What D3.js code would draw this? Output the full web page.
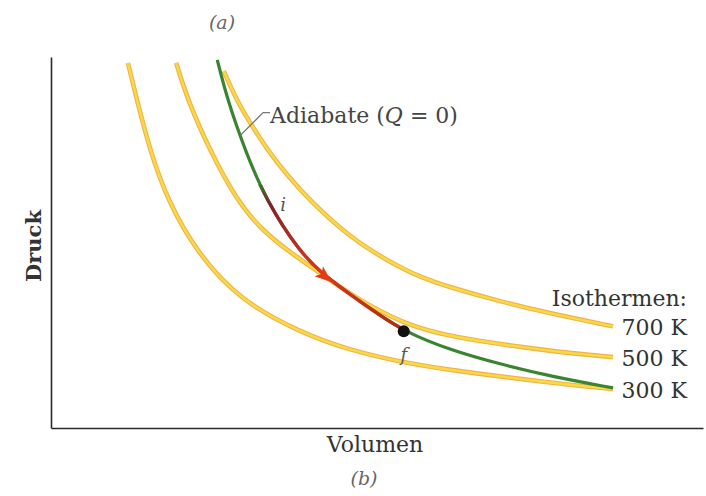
<!DOCTYPE html>
<html>
<head>
<meta charset="utf-8">
<script src="https://cdn.jsdelivr.net/npm/d3@7"></script>
<style>
  body { margin: 0; background: #fff; }
  text { font-family: "DejaVu Serif", "Liberation Serif", serif; fill: #333; }
</style>
</head>
<body>
<div id="chart"></div>
<script>
let svgWidth = 706;
let svgHeight = 496;

// arbitrary units (Volumen / Druck 0..10)
let iso300V = [1.18, 1.32, 1.52, 1.79, 2.24, 2.90, 3.82, 4.54, 5.35, 6.12, 7.65, 8.62];
let iso300P = [9.84, 8.82, 7.47, 6.13, 4.72, 3.44, 2.58, 2.12, 1.78, 1.56, 1.22, 1.05];

let iso500V = [1.92, 2.10, 2.44, 2.85, 3.24, 3.67, 4.13, 4.66, 5.41, 6.12, 7.65, 8.62];
let iso500P = [9.84, 8.82, 7.47, 6.13, 5.32, 4.73, 4.17, 3.52, 2.80, 2.45, 2.07, 1.91];

let iso700V = [2.65, 2.85, 3.08, 3.33, 3.63, 3.97, 4.59, 5.15, 5.66, 6.12, 6.89, 7.65, 8.62];
let iso700P = [9.62, 8.82, 8.15, 7.47, 6.80, 6.13, 5.13, 4.52, 4.06, 3.79, 3.41, 3.09, 2.74];

let adiabatV = [2.55, 2.71, 2.98, 3.30, 3.82, 4.17, 4.59, 5.00, 5.41, 6.12, 6.89, 7.65, 8.62];
let adiabatP = [9.92, 8.82, 7.47, 6.13, 4.73, 4.14, 3.60, 3.09, 2.61, 2.10, 1.72, 1.40, 1.08];

let isoLabels = ["700 K", "500 K", "300 K"];
// red part of the adiabat runs from point i to point f
let iIndex = 3;
let arrowIndex = 5;
let fIndex = 8;
let leaderAt = [2.90, 7.88];

let x = d3.scaleLinear().domain([0, 10]).range([51, 703]);
let y = d3.scaleLinear().domain([0, 10]).range([428, 57]);

let svg = d3.select("#chart")
  .append("svg")
  .attr("width", svgWidth)
  .attr("height", svgHeight);

let zip = (vs, ps) => vs.map((v, k) => [v, ps[k]]);

let line = d3.line()
  .x(d => x(d[0]))
  .y(d => y(d[1]))
  .curve(d3.curveBasis);

// axes without ticks
svg.append("g")
  .attr("transform", `translate(0, ${y(0)})`)
  .call(d3.axisBottom(x).tickValues([]).tickSizeOuter(0))
  .select(".domain").attr("stroke", "#2a2a2a").attr("stroke-width", 1.6);

svg.append("g")
  .attr("transform", `translate(${x(0)}, 0)`)
  .call(d3.axisLeft(y).tickValues([]).tickSizeOuter(0))
  .select(".domain").attr("stroke", "#2a2a2a").attr("stroke-width", 1.6);

// isotherms
let isotherms = [zip(iso700V, iso700P), zip(iso500V, iso500P), zip(iso300V, iso300P)];

svg.selectAll(".iso-edge")
  .data(isotherms)
  .enter()
  .append("path")
  .attr("class", "iso-edge")
  .attr("d", line)
  .attr("fill", "none")
  .attr("stroke", "#f1b24a")
  .attr("stroke-width", 4.6);

svg.selectAll(".iso-core")
  .data(isotherms)
  .enter()
  .append("path")
  .attr("class", "iso-core")
  .attr("d", line)
  .attr("fill", "none")
  .attr("stroke", "#f8da45")
  .attr("stroke-width", 2.4);

// adiabat, green everywhere, red between i and f
let adiabat = zip(adiabatV, adiabatP);
let yTop = y(adiabatP[iIndex]) - 16;
let yF = y(adiabatP[fIndex]);

let defs = svg.append("defs");
defs.append("clipPath")
  .attr("id", "redPart")
  .append("rect")
  .attr("x", 0).attr("width", svgWidth)
  .attr("y", yTop).attr("height", yF - yTop);

let grad = defs.append("linearGradient")
  .attr("id", "redGrad")
  .attr("gradientUnits", "userSpaceOnUse")
  .attr("x1", 0).attr("x2", 0)
  .attr("y1", yTop)
  .attr("y2", yF);

grad.append("stop").attr("offset", "0%").attr("stop-color", "#3a7430");
grad.append("stop").attr("offset", "14%").attr("stop-color", "#84202a");
grad.append("stop").attr("offset", "58%").attr("stop-color", "#de3618");
grad.append("stop").attr("offset", "100%").attr("stop-color", "#b42a16");

svg.append("path")
  .attr("d", line(adiabat))
  .attr("fill", "none")
  .attr("stroke", "#3a8430")
  .attr("stroke-width", 3.2);

svg.append("path")
  .attr("d", line(adiabat))
  .attr("clip-path", "url(#redPart)")
  .attr("fill", "none")
  .attr("stroke", "url(#redGrad)")
  .attr("stroke-width", 3.4);

// arrow head
let a0 = adiabat[arrowIndex - 1], a1 = adiabat[arrowIndex + 1];
let angle = Math.atan2(y(a1[1]) - y(a0[1]), x(a1[0]) - x(a0[0])) * 180 / Math.PI;
svg.append("path")
  .attr("d", "M9,0 L-8,-6.5 L-4,0 L-8,6.5 Z")
  .attr("fill", "#e63a16")
  .attr("transform", `translate(${x(adiabatV[arrowIndex]) + 2}, ${y(adiabatP[arrowIndex]) + 2}) rotate(${angle})`);

// point f
svg.append("circle")
  .attr("cx", x(adiabatV[fIndex]))
  .attr("cy", yF)
  .attr("r", 6)
  .attr("fill", "#111");

svg.append("text")
  .attr("x", x(adiabatV[fIndex]))
  .attr("y", yF + 30)
  .attr("text-anchor", "middle")
  .style("font-style", "italic")
  .style("font-size", "18px")
  .style("fill", "#555")
  .text("f");

svg.append("text")
  .attr("x", x(adiabatV[iIndex]) + 17)
  .attr("y", y(adiabatP[iIndex]) + 10)
  .attr("text-anchor", "middle")
  .style("font-style", "italic")
  .style("font-size", "18px")
  .style("fill", "#555")
  .text("i");

// adiabat label with leader line
let lx = x(leaderAt[0]), ly = y(leaderAt[1]);
svg.append("path")
  .attr("d", `M${lx},${ly} L${lx + 23},${ly - 23} L${lx + 30},${ly - 23}`)
  .attr("fill", "none")
  .attr("stroke", "#777")
  .attr("stroke-width", 1.3);

let adLabel = svg.append("text")
  .attr("x", lx + 30)
  .attr("y", ly - 13)
  .style("font-size", "22px")
  .style("fill", "#444");
adLabel.append("tspan").text("Adiabate (");
adLabel.append("tspan").style("font-style", "italic").text("Q");
adLabel.append("tspan").text(" = 0)");

// isotherm labels
svg.append("text")
  .attr("x", 687)
  .attr("y", 306)
  .attr("text-anchor", "end")
  .style("font-size", "22px")
  .text("Isothermen:");

svg.selectAll(".iso-label")
  .data(isotherms)
  .enter()
  .append("text")
  .attr("class", "iso-label")
  .attr("x", 687)
  .attr("y", d => y(d[d.length - 1][1]) + 9)
  .attr("text-anchor", "end")
  .style("font-size", "22px")
  .text((d, k) => isoLabels[k]);

// axis titles
svg.append("text")
  .attr("x", 375)
  .attr("y", 452)
  .attr("text-anchor", "middle")
  .style("font-size", "22px")
  .text("Volumen");

svg.append("text")
  .attr("transform", "translate(41, 246) rotate(-90)")
  .attr("text-anchor", "middle")
  .style("font-size", "21px")
  .style("font-weight", "bold")
  .text("Druck");

// panel letters
svg.append("text")
  .attr("x", 222)
  .attr("y", 29)
  .attr("text-anchor", "middle")
  .style("font-style", "italic")
  .style("font-size", "19px")
  .style("fill", "#666")
  .text("(a)");

svg.append("text")
  .attr("x", 364)
  .attr("y", 485)
  .attr("text-anchor", "middle")
  .style("font-style", "italic")
  .style("font-size", "19px")
  .style("fill", "#666")
  .text("(b)");
</script>
</body>
</html>
